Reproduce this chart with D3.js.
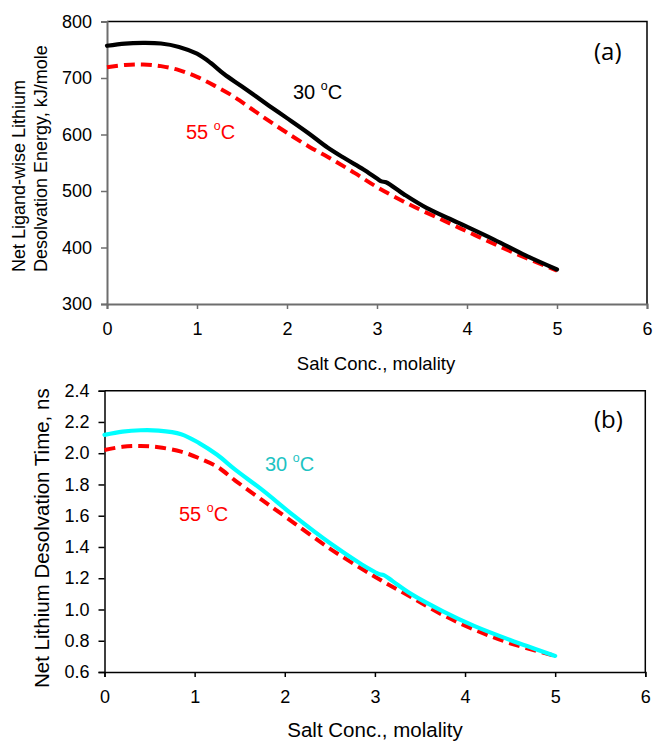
<!DOCTYPE html>
<html>
<head>
<meta charset="utf-8">
<script src="https://cdn.jsdelivr.net/npm/d3@7"></script>
<style>
  html, body { margin: 0; padding: 0; background: #fff; }
  svg { display: block; font-family: "Liberation Sans", Arial, sans-serif; }
</style>
</head>
<body>
<svg id="chart" width="655" height="743"></svg>
<script>
// ---------- Data ----------
// Panel (a): Net ligand-wise lithium desolvation energy, kJ/mole
const xA30 = [0, 0.2, 0.4, 0.6, 0.8, 1.0, 1.15, 1.3, 1.5, 1.8, 2.0, 2.25, 2.45, 2.65, 2.85, 3.0, 3.05, 3.1, 3.3, 3.55, 3.9, 4.3, 4.65, 5.0];
const yA30 = [757, 761, 762, 761, 755, 743, 727, 707, 685, 651, 629, 601, 577, 557, 538, 522, 517, 515.5, 494, 470, 444, 414, 386, 361];
const xA55 = [0, 0.2, 0.4, 0.6, 0.8, 1.0, 1.2, 1.4, 1.6, 1.8, 2.0, 2.25, 2.5, 2.75, 3.0, 3.35, 3.75, 4.1, 4.5, 5.0];
const yA55 = [719, 723, 724, 721, 714, 702, 686, 668, 646, 624, 603, 578, 556, 532, 507, 477, 447, 421, 392, 359];

// Panel (b): Net lithium desolvation time, ns
const xB30 = [0, 0.2, 0.4, 0.6, 0.85, 1.05, 1.25, 1.45, 1.75, 2.1, 2.5, 2.85, 3.0, 3.05, 3.1, 3.2, 3.4, 3.75, 4.1, 4.5, 5.0];
const yB30 = [2.117, 2.138, 2.147, 2.145, 2.122, 2.065, 1.99, 1.895, 1.765, 1.60, 1.425, 1.29, 1.24, 1.225, 1.22, 1.18, 1.10, 0.99, 0.895, 0.805, 0.703];
const xB55 = [0, 0.2, 0.4, 0.6, 0.85, 1.05, 1.25, 1.45, 1.75, 2.1, 2.5, 2.85, 3.1, 3.4, 3.75, 4.1, 4.5, 5.0];
const yB55 = [2.021, 2.041, 2.046, 2.038, 2.01, 1.968, 1.914, 1.825, 1.70, 1.555, 1.39, 1.262, 1.176, 1.08, 0.966, 0.872, 0.784, 0.703];

const xTicks = [0, 1, 2, 3, 4, 5, 6];
const yTicksA = [300, 400, 500, 600, 700, 800];
const yTicksB = [0.6, 0.8, 1.0, 1.2, 1.4, 1.6, 1.8, 2.0, 2.2, 2.4];

const xTitle = "Salt Conc., molality";
const yTitleA = ["Net Ligand-wise Lithium", "Desolvation Energy, kJ/mole"];
const yTitleB = "Net Lithium Desolvation Time, ns";
const seriesLabels = ["30 ", "55 "];

// ---------- Drawing ----------
const svg = d3.select("#chart");

function zip(xs, ys) { return xs.map((x, i) => ({x, y: ys[i]})); }

function panel(cfg) {
  const g = svg.append("g");
  const x = d3.scaleLinear().domain([0, 6]).range([cfg.left, cfg.right]);
  const y = d3.scaleLinear().domain(cfg.yDomain).range([cfg.bottom, cfg.top]);

  // top / right border
  g.append("path")
    .attr("d", `M${cfg.left},${cfg.top}H${cfg.right}V${cfg.bottom}`)
    .attr("fill", "none").attr("stroke", "#000").attr("stroke-width", 1.5);

  // axes
  const xAxis = g.append("g").attr("transform", `translate(0,${cfg.bottom})`)
    .call(d3.axisBottom(x).tickValues(xTicks).tickFormat(d3.format("d")).tickSize(5).tickPadding(cfg.xPad));
  const yAxis = g.append("g").attr("transform", `translate(${cfg.left},0)`)
    .call(d3.axisLeft(y).tickValues(cfg.yTicks).tickFormat(cfg.yFormat).tickSize(6).tickPadding(cfg.yPad));
  [xAxis, yAxis].forEach(a => {
    a.select(".domain").attr("stroke", cfg.axisColor).attr("stroke-width", cfg.axisWidth);
    a.selectAll(".tick line").attr("stroke", cfg.axisColor).attr("stroke-width", 1.5);
    a.selectAll(".tick text").attr("fill", "#000").style("font-size", cfg.tickFont + "px")
      .style("font-family", '"Liberation Sans", Arial, sans-serif');
  });
  xAxis.selectAll(".tick text").attr("dy", "0.71em");

  // x title
  g.append("text").attr("x", cfg.xTitleX).attr("y", cfg.xTitleY)
    .attr("text-anchor", "middle").style("font-size", cfg.xTitleFont + "px").text(xTitle);

  const line = d3.line().x(d => x(d.x)).y(d => y(d.y)).curve(d3.curveCatmullRom.alpha(0.5));

  // series
  g.append("path").datum(zip(cfg.x55, cfg.y55)).attr("d", line)
    .attr("fill", "none").attr("stroke", "#ff0000").attr("stroke-width", 4)
    .attr("stroke-dasharray", "11,6");
  g.append("path").datum(zip(cfg.x30, cfg.y30)).attr("d", line)
    .attr("fill", "none").attr("stroke", cfg.c30).attr("stroke-width", 4.2)
    .attr("stroke-linecap", "round").attr("stroke-linejoin", "round");

  // series labels
  function degLabel(px, py, txt, color, fs) {
    const t = g.append("text").attr("x", px).attr("y", py).attr("fill", color)
      .style("font-size", fs + "px");
    t.append("tspan").text(txt);
    t.append("tspan").text("o").style("font-size", (fs * 0.62) + "px").attr("dy", -fs * 0.45);
    t.append("tspan").text("C").attr("dy", fs * 0.45);
  }
  degLabel(cfg.l30[0], cfg.l30[1], seriesLabels[0], cfg.c30text, cfg.labFont);
  degLabel(cfg.l55[0], cfg.l55[1], seriesLabels[1], "#ff0000", cfg.labFont);

  // panel tag
  g.append("text").attr("x", cfg.tag[0]).attr("y", cfg.tag[1])
    .style("font-size", "24px").style("font-family", '"Open Sans", "Liberation Sans", sans-serif')
    .text(cfg.tagText);
  return g;
}

const gA = panel({
  left: 107, right: 647, top: 21.5, bottom: 304,
  yDomain: [300, 800], yTicks: yTicksA, yFormat: d3.format("d"), yPad: 9, xPad: 13,
  axisColor: "#6e6e6e", axisWidth: 2, tickFont: 18,
  xTitleX: 376, xTitleY: 370, xTitleFont: 18.5,
  x30: xA30, y30: yA30, x55: xA55, y55: yA55,
  c30: "#000000", c30text: "#000000",
  l30: [293, 98.5], l55: [186, 138.5], labFont: 20,
  tag: [594, 60], tagText: "(a)"
});
// two-line y title of panel (a)
gA.append("text").attr("transform", "translate(25,272) rotate(-90)")
  .style("font-size", "18px").text(yTitleA[0]);
gA.append("text").attr("transform", "translate(46.5,272) rotate(-90)")
  .style("font-size", "18px").text(yTitleA[1]);

const gB = panel({
  left: 104.5, right: 645.3, top: 390.7, bottom: 672,
  yDomain: [0.6, 2.4], yTicks: yTicksB, yFormat: d3.format(".1f"), yPad: 9, xPad: 13,
  axisColor: "#000000", axisWidth: 1.5, tickFont: 18,
  xTitleX: 375, xTitleY: 737, xTitleFont: 20.5,
  x30: xB30, y30: yB30, x55: xB55, y55: yB55,
  c30: "#00ffff", c30text: "#1dc3c3",
  l30: [265, 471], l55: [179, 521], labFont: 20,
  tag: [594, 428], tagText: "(b)"
});
gB.append("text").attr("transform", "translate(48.5,688) rotate(-90)")
  .style("font-size", "20.5px").text(yTitleB);
</script>
</body>
</html>
